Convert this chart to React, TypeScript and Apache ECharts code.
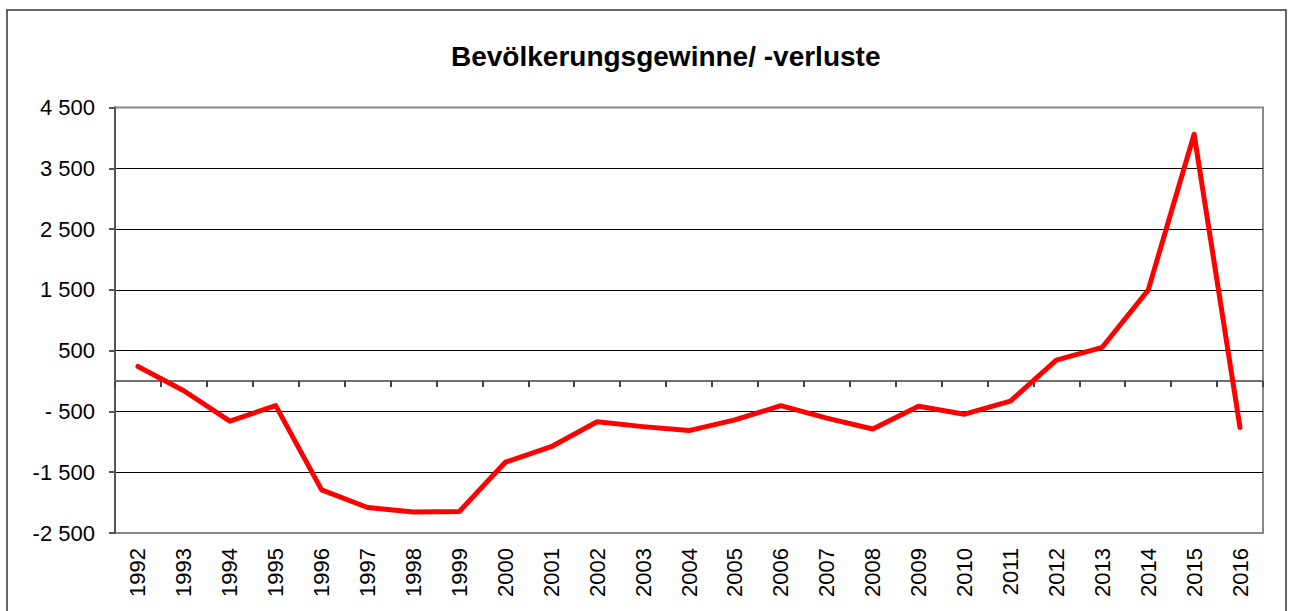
import React, { useEffect, useRef } from "react";
import * as echarts from "echarts";

const years = [
  "1992", "1993", "1994", "1995", "1996", "1997", "1998", "1999", "2000",
  "2001", "2002", "2003", "2004", "2005", "2006", "2007", "2008", "2009",
  "2010", "2011", "2012", "2013", "2014", "2015", "2016",
];

const values = [
  240, -160, -660, -405, -1790, -2080, -2155, -2145, -1335,
  -1080, -670, -750, -815, -640, -405, -610, -790, -415,
  -545, -330, 345, 555, 1495, 4060, -765,
];

const titleText = "Bevölkerungsgewinne/ -verluste";
const yMin = -2500;
const yMax = 4500;
const yStep = 1000;

function formatTick(v: number): string {
  const neg = v < 0;
  const a = Math.abs(v);
  const th = Math.floor(a / 1000);
  const rest = a % 1000;
  let s: string;
  if (th > 0) {
    s = th + " " + String(rest).padStart(3, "0");
  } else {
    s = (neg ? " " : "") + String(rest);
  }
  return (neg ? "-" : "") + s;
}

export default function App() {
  const ref = useRef<HTMLDivElement>(null);

  useEffect(() => {
    if (!ref.current) return;
    const chart = echarts.init(ref.current, undefined, { renderer: "svg" });
    const font = "Liberation Sans";
    chart.setOption({
      animation: false,
      backgroundColor: "#ffffff",
      title: {
        text: titleText,
        left: 446,
        top: 37,
        textStyle: {
          fontFamily: font,
          fontSize: 28,
          fontWeight: "bold",
          color: "#000",
        },
      },
      grid: {
        left: 115,
        right: 27,
        top: 107.5,
        bottom: 78,
        show: true,
        borderColor: "#888",
        borderWidth: 2,
        containLabel: false,
      },
      xAxis: [
        {
          type: "category",
          data: years,
          boundaryGap: true,
          position: "bottom",
          axisLine: { show: true, onZero: true, lineStyle: { color: "#707070", width: 2 } },
          axisTick: { show: true, length: 6, lineStyle: { color: "#444", width: 2 } },
          axisLabel: { show: false },
          splitLine: { show: false },
        },
        {
          type: "category",
          data: years,
          boundaryGap: true,
          position: "bottom",
          axisLine: { show: false, onZero: false },
          axisTick: { show: false },
          splitLine: { show: false },
          axisLabel: {
            rotate: 90,
            margin: 15,
            fontSize: 22,
            fontFamily: font,
            color: "#000",
          },
        },
      ],
      yAxis: {
        type: "value",
        min: yMin,
        max: yMax,
        interval: yStep,
        axisLine: { show: true, lineStyle: { color: "#555", width: 2 } },
        axisTick: { show: true, length: 6, lineStyle: { color: "#555", width: 2 } },
        axisLabel: {
          formatter: (v: number) => formatTick(v),
          fontSize: 22,
          fontFamily: font,
          color: "#000",
          margin: 20,
        },
        splitLine: {
          show: true,
          lineStyle: {
            color: ["#888", "#000", "#000", "#000", "#000", "#000", "#000", "#888"],
            width: 1,
          },
        },
      },
      series: [
        {
          type: "line",
          data: values,
          xAxisIndex: 0,
          symbol: "none",
          showSymbol: false,
          lineStyle: { color: "#ff0000", width: 5, cap: "round", join: "round" },
          z: 5,
        },
      ],
      graphic: [
        {
          type: "rect",
          shape: { x: 7, y: 10, width: 1279, height: 700 },
          style: { fill: "none", stroke: "#333", lineWidth: 1.5 },
          silent: true,
        },
      ],
    });
    return () => chart.dispose();
  }, []);

  return (
    <div
      ref={ref}
      style={{ position: "fixed", left: 0, top: 0, width: 1290, height: 611 }}
    />
  );
}
